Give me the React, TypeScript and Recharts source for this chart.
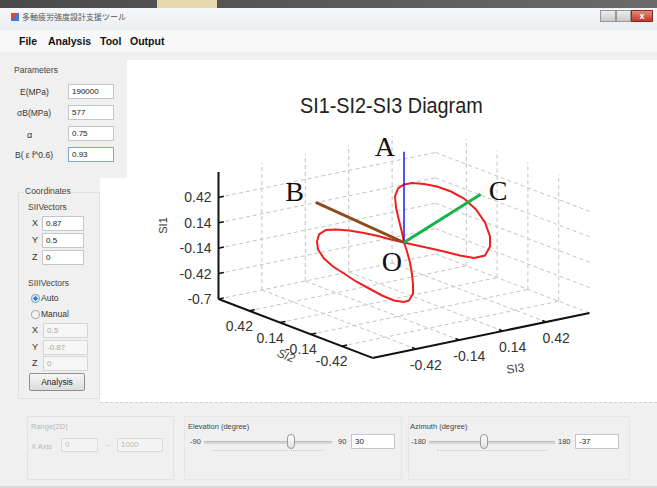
import React from 'react'
import { ScatterChart, Scatter, XAxis, YAxis } from 'recharts'

// ticks of the 3D box: SI1 is vertical, SI2 and SI3 lie on the floor
const si1Ticks = [-0.7, -0.42, -0.14, 0.14, 0.42]
const si2Ticks = [-0.42, -0.14, 0.14, 0.42]
const si3Ticks = [-0.42, -0.14, 0.14, 0.42]
const axisLimit = 0.7

// principal directions, as [SI1, SI2, SI3]
const vectorNames = ['A', 'B', 'C']
const vectors = [
    [1, 0, 0],
    [0, 0.9, 0.07],
    [0, 0.5, 0.85],
]

// red path in the view plane (h to the right, v up, O at 0,0)
const upperLobe = [
    [0, 0], [-2, 10], [-5, 22], [-8, 35], [-9, 46], [-6, 54], [0, 58], [8, 59.5],
    [20, 58.5], [33, 56], [47, 51], [60, 44], [72, 33], [81, 20], [86, 6], [86, -4],
    [81, -13], [70, -15.5], [56, -13], [42, -9.5], [27, -6], [13, -3], [0, 0],
]
const lowerLobe = [
    [0, 0], [-13, 3], [-26, 6.5], [-40, 9.5], [-55, 12], [-68, 13], [-78, 12.5], [-85, 8],
    [-87, 1], [-86, -7], [-80, -16], [-71, -24], [-60, -31], [-48, -39], [-35, -46],
    [-22, -53], [-10, -58], [0, -59.5], [5, -58], [9, -51], [9, -42], [8, -32], [6, -20],
    [3, -9], [0, 0],
]

const axisTitles = ['SI1', 'SI2', 'SI3']

// view at elevation 30 / azimuth -37, pixels per unit of each axis
const VIEW_H = [0, -110, 155]
const VIEW_V = [90.7, 42.1, 32.1]
const project = (p: number[]) => ({
    h: VIEW_H[0] * p[0] + VIEW_H[1] * p[1] + VIEW_H[2] * p[2],
    v: VIEW_V[0] * p[0] + VIEW_V[1] * p[1] + VIEW_V[2] * p[2],
})
const seg = (a: number[], b: number[]) => [project(a), project(b)]

const L = axisLimit
const gridLines: { h: number; v: number }[][] = []
si3Ticks.forEach(t => gridLines.push(seg([-L, L, t], [-L, -L, t])))
si2Ticks.forEach(t => gridLines.push(seg([-L, t, -L], [-L, t, L])))
si1Ticks.forEach(t => gridLines.push(seg([t, L, -L], [t, L, L])))
si3Ticks.forEach(t => gridLines.push(seg([-L, L, t], [L, L, t])))
si1Ticks.forEach(t => gridLines.push(seg([t, L, L], [t, -L, L])))
si2Ticks.forEach(t => gridLines.push(seg([-L, t, L], [L, t, L])))

const axisLines = [
    seg([-L, L, -L], [L, L, -L]),
    seg([-L, L, -L], [-L, -L, -L]),
    seg([-L, -L, -L], [-L, -L, L]),
]
const tickMarks = [
    ...si1Ticks.map(t => seg([t, L, -L], [t, L, -L + 0.035])),
    ...si2Ticks.map(t => seg([-L, t, -L], [-L, t, -L + 0.035])),
    ...si3Ticks.map(t => seg([-L, -L, t], [-L, -L + 0.035, t])),
]

const fmt = (t: number) => String(t).replace('0.', '0.')
const si1Labels = si1Ticks.map(t => ({ ...project([t, L, -L]), label: fmt(t) }))
const si2Labels = si2Ticks.map(t => ({ ...project([-L, t, -L]), label: fmt(t) }))
const si3Labels = si3Ticks.map(t => ({ ...project([-L, -L, t]), label: fmt(t) }))
const titlePoints = [project([0, L, -L]), project([-L, 0, -L]), project([-L, -L, 0])]

const vectorColors = ['#1a1aff', '#8f4a1c', '#18b24a']
const vectorWidths = [1.5, 3, 3]
const vectorLabelOffsets = [[-9, 4], [-12, -1], [8, 6]]
const vectorLabelAnchor = ['end', 'end', 'start']

const redPath = [...upperLobe, ...lowerLobe.slice(1)].map(([h, v]) => ({ h, v }))

// chart frame in page pixels, O sits at (404, 242.5)
const CH = { left: 127, top: 60, width: 530, height: 342 }
const OX = 404
const OY = 242.5

const NoDot = () => <g />

const textShape = (dx: number, dy: number, attrs: any) => (p: any) => (
    <text x={p.cx + dx} y={p.cy + dy} {...attrs}>{p.payload.label}</text>
)

const tickFont = { fontFamily: 'Liberation Sans, Arial, sans-serif', fontSize: 14, fill: '#333' }
const letterFont = { fontFamily: 'Liberation Serif, Times New Roman, serif', fontSize: 28, fill: '#111' }

function Diagram() {
    return (
        <ScatterChart width={CH.width} height={CH.height} margin={{ top: 0, right: 0, bottom: 0, left: 0 }}>
            <XAxis type="number" dataKey="h" hide allowDataOverflow
                domain={[CH.left - OX, CH.left + CH.width - OX]} />
            <YAxis type="number" dataKey="v" hide allowDataOverflow
                domain={[OY - (CH.top + CH.height), OY - CH.top]} />
            {gridLines.map((d, i) => (
                <Scatter key={`g${i}`} data={d} fill="#bdbdbd" shape={NoDot} isAnimationActive={false}
                    line={{ stroke: '#c4c4c4', strokeWidth: 1, strokeDasharray: '4 3' }} />
            ))}
            {axisLines.map((d, i) => (
                <Scatter key={`a${i}`} data={d} fill="#111" shape={NoDot} isAnimationActive={false}
                    line={{ stroke: '#111', strokeWidth: 2 }} />
            ))}
            {tickMarks.map((d, i) => (
                <Scatter key={`t${i}`} data={d} fill="#111" shape={NoDot} isAnimationActive={false}
                    line={{ stroke: '#111', strokeWidth: 1.5 }} />
            ))}
            <Scatter data={si1Labels} shape={textShape(-7, 5, { ...tickFont, textAnchor: 'end' })} isAnimationActive={false} />
            <Scatter data={si2Labels} shape={textShape(-10, 20, { ...tickFont, textAnchor: 'middle' })} isAnimationActive={false} />
            <Scatter data={si3Labels} shape={textShape(10, 21, { ...tickFont, textAnchor: 'middle' })} isAnimationActive={false} />
            <Scatter data={[{ ...titlePoints[0], label: axisTitles[0] }]} isAnimationActive={false}
                shape={(p: any) => (
                    <text x={p.cx - 52} y={p.cy - 10} transform={`rotate(-90 ${p.cx - 52} ${p.cy - 10})`}
                        textAnchor="middle" fontFamily="Liberation Sans, Arial" fontSize={11} fill="#333">{p.payload.label}</text>
                )} />
            <Scatter data={[{ ...titlePoints[1], label: axisTitles[1] }]} isAnimationActive={false}
                shape={(p: any) => (
                    <text x={p.cx - 11} y={p.cy + 31} transform={`rotate(22 ${p.cx - 11} ${p.cy + 31})`}
                        textAnchor="middle" fontFamily="Liberation Sans, Arial" fontSize={12} fontStyle="italic" fill="#444">{p.payload.label}</text>
                )} />
            <Scatter data={[{ ...titlePoints[2], label: axisTitles[2] }]} isAnimationActive={false}
                shape={(p: any) => (
                    <text x={p.cx + 35} y={p.cy + 37} transform={`rotate(-8 ${p.cx + 35} ${p.cy + 37})`}
                        textAnchor="middle" fontFamily="Liberation Sans, Arial" fontSize={12} fill="#444">{p.payload.label}</text>
                )} />
            <Scatter data={redPath} fill="#f01e1e" shape={NoDot} isAnimationActive={false}
                line={{ stroke: '#f01e1e', strokeWidth: 2 }} />
            {vectors.map((vec, i) => (
                <Scatter key={`v${i}`} data={[project([0, 0, 0]), project(vec)]} fill={vectorColors[i]}
                    shape={NoDot} isAnimationActive={false}
                    line={{ stroke: vectorColors[i], strokeWidth: vectorWidths[i] }} />
            ))}
            {vectors.map((vec, i) => (
                <Scatter key={`n${i}`} data={[{ ...project(vec), label: vectorNames[i] }]} isAnimationActive={false}
                    shape={textShape(vectorLabelOffsets[i][0], vectorLabelOffsets[i][1],
                        { ...letterFont, textAnchor: vectorLabelAnchor[i] })} />
            ))}
            <Scatter data={[{ ...project([0, 0, 0]), label: 'O' }]} isAnimationActive={false}
                shape={textShape(-2, 28, { ...letterFont, textAnchor: 'end' })} />
        </ScatterChart>
    )
}

const ui = 'Liberation Sans, Arial, sans-serif'

function Txt({ x, y, children, size = 9, color = '#333', bold = false, style = {} }: any) {
    return (
        <div style={{
            position: 'absolute', left: x, top: y, fontSize: size, color, fontFamily: ui,
            fontWeight: bold ? 700 : 400, whiteSpace: 'nowrap', lineHeight: 1, ...style
        }}>{children}</div>
    )
}

function Box({ x, y, w, h, text, border = '#c3c6cc', color = '#222', bg = '#fff' }: any) {
    return (
        <div style={{
            position: 'absolute', left: x, top: y, width: w, height: h, border: `1px solid ${border}`,
            background: bg, boxSizing: 'border-box', fontSize: 8, color, paddingLeft: 3,
            lineHeight: `${h - 2}px`, fontFamily: ui, whiteSpace: 'nowrap'
        }}>{text}</div>
    )
}

function Slider({ x, y, w, thumb }: any) {
    return (
        <>
            <div style={{ position: 'absolute', left: x, top: y, width: w, height: 2, background: '#d6d6d6', borderTop: '1px solid #bfbfbf' }} />
            <div style={{ position: 'absolute', left: x + 8, top: y + 9, width: w - 16, height: 0, borderTop: '1px dotted #c8c8c8' }} />
            <div style={{
                position: 'absolute', left: thumb - 4, top: y - 7, width: 8, height: 15, borderRadius: 4,
                border: '1px solid #9a9a9a', background: 'linear-gradient(#fdfdfd, #e2e2e2)', boxSizing: 'border-box'
            }} />
        </>
    )
}

export default function App() {
    return (
        <div style={{ position: 'absolute', left: 0, top: 0, width: 657, height: 488, overflow: 'hidden', background: '#f0f0f0', fontFamily: ui }}>
            {/* screen strip above the window */}
            <div style={{ position: 'absolute', left: 0, top: 0, width: 657, height: 8, background: 'linear-gradient(90deg,#4a4a4a,#6a6a6a)' }} />
            <div style={{ position: 'absolute', left: 157, top: 0, width: 60, height: 8, background: '#e6d7ae' }} />
            {/* title bar */}
            <div style={{ position: 'absolute', left: 0, top: 8, width: 657, height: 22, background: 'linear-gradient(#f7f8fa,#e9edf2)' }} />
            <div style={{ position: 'absolute', left: 11, top: 13, width: 8, height: 8, background: 'linear-gradient(135deg,#e24a2a 50%,#3a7bd5 50%)' }} />
            <Txt x={22} y={13} size={8} color="#555" style={{ fontFamily: 'Noto Sans CJK JP, sans-serif' }}>多軸疲労強度設計支援ツール</Txt>
            <div style={{ position: 'absolute', left: 600, top: 10, width: 16, height: 12, background: 'linear-gradient(#eee,#c9c9c9)', border: '1px solid #999', boxSizing: 'border-box' }} />
            <div style={{ position: 'absolute', left: 616, top: 10, width: 15, height: 12, background: 'linear-gradient(#eee,#c9c9c9)', border: '1px solid #999', boxSizing: 'border-box' }} />
            <div style={{ position: 'absolute', left: 631, top: 10, width: 22, height: 12, background: 'linear-gradient(#e88a7a,#c4352a)', border: '1px solid #8a2a20', boxSizing: 'border-box', color: '#fff', fontSize: 9, textAlign: 'center', lineHeight: '10px', fontWeight: 700 }}>x</div>
            {/* menu bar */}
            <div style={{ position: 'absolute', left: 0, top: 30, width: 657, height: 22, background: '#f8f8f8' }} />
            <Txt x={19} y={36} size={10.5} bold color="#111">File</Txt>
            <Txt x={48} y={36} size={10.5} bold color="#111">Analysis</Txt>
            <Txt x={100} y={36} size={10.5} bold color="#111">Tool</Txt>
            <Txt x={130} y={36} size={10.5} bold color="#111">Output</Txt>

            {/* plot panel */}
            <div style={{ position: 'absolute', left: 127, top: 60, width: 530, height: 342, background: '#fff' }} />
            <div style={{ position: 'absolute', left: 100, top: 178, width: 27, height: 224, background: '#fff' }} />
            <div style={{ position: 'absolute', left: 100, top: 402, width: 557, height: 0, borderTop: '1px dashed #d2d2d2' }} />
            <div style={{ position: 'absolute', left: CH.left, top: CH.top }}>
                <Diagram />
            </div>
            <div style={{
                position: 'absolute', left: 290, top: 95, width: 200, textAlign: 'center', fontFamily: ui,
                fontSize: 22, lineHeight: '22px', color: '#222', transform: 'scaleX(0.9)', whiteSpace: 'nowrap'
            }}>SI1-SI2-SI3 Diagram</div>

            {/* parameters */}
            <Txt x={14} y={66} size={8.5} color="#444">Parameters</Txt>
            <Txt x={20} y={88} size={8.5}>E(MPa)</Txt>
            <Box x={68} y={84} w={46} h={15} text="190000" />
            <Txt x={17} y={109} size={8.5}>σB(MPa)</Txt>
            <Box x={68} y={105} w={46} h={15} text="577" />
            <Txt x={27} y={131} size={9}>α</Txt>
            <Box x={68} y={126} w={46} h={15} text="0.75" />
            <Txt x={15} y={151} size={8.5}>B( ε f^0.6)</Txt>
            <Box x={68} y={147} w={46} h={15} text="0.93" border="#7aa7d8" />

            <div style={{ position: 'absolute', left: 18, top: 192, width: 80, height: 205, border: '1px solid #e0e0e0' }} />
            <Txt x={24} y={187} size={8.5} color="#444" style={{ background: '#f0f0f0', padding: '0 1px' }}>Coordinates</Txt>
            <Txt x={28} y={203} size={8.5} color="#444">SIIVectors</Txt>
            <Txt x={32} y={219} size={9}>X</Txt>
            <Box x={42} y={216} w={42} h={15} text="0.87" />
            <Txt x={32} y={236} size={9}>Y</Txt>
            <Box x={42} y={233} w={42} h={15} text="0.5" />
            <Txt x={32} y={253} size={9}>Z</Txt>
            <Box x={42} y={250} w={42} h={15} text="0" />
            <Txt x={28} y={279} size={8.5} color="#444">SIIIVectors</Txt>
            <div style={{ position: 'absolute', left: 31, top: 294, width: 7, height: 7, borderRadius: 4, background: 'radial-gradient(#2a7fd4 40%, #cfe0f2 45%)', border: '1px solid #8aa' }} />
            <Txt x={41} y={294} size={8.5}>Auto</Txt>
            <div style={{ position: 'absolute', left: 31, top: 310, width: 7, height: 7, borderRadius: 4, background: '#f4f4f4', border: '1px solid #aaa' }} />
            <Txt x={41} y={310} size={8.5}>Manual</Txt>
            <Txt x={32} y={326} size={9}>X</Txt>
            <Box x={43} y={323} w={45} h={15} text="0.5" color="#aaa" border="#d6d6d6" bg="#f6f6f6" />
            <Txt x={32} y={343} size={9}>Y</Txt>
            <Box x={43} y={340} w={45} h={15} text="-0.87" color="#aaa" border="#d6d6d6" bg="#f6f6f6" />
            <Txt x={32} y={359} size={9}>Z</Txt>
            <Box x={43} y={356} w={45} h={15} text="0" color="#aaa" border="#d6d6d6" bg="#f6f6f6" />
            <div style={{
                position: 'absolute', left: 29, top: 373, width: 56, height: 18, border: '1px solid #8e8f8f', borderRadius: 2,
                background: 'linear-gradient(#f6f6f6,#dcdcdc)', boxSizing: 'border-box', fontSize: 8.5, textAlign: 'center', lineHeight: '16px', color: '#222'
            }}>Analysis</div>

            {/* bottom controls */}
            <div style={{ position: 'absolute', left: 27, top: 416, width: 145, height: 62, border: '1px solid #e2e2e2' }} />
            <Txt x={31} y={423} size={7.5} color="#b8b8b8">Range(2D)</Txt>
            <Txt x={31} y={443} size={7.5} color="#b8b8b8">X Axis</Txt>
            <Box x={61} y={438} w={37} h={14} text="0" color="#bbb" border="#dadada" bg="#f4f4f4" />
            <Txt x={105} y={442} size={8} color="#bbb">~</Txt>
            <Box x={117} y={438} w={46} h={14} text="1000" color="#bbb" border="#dadada" bg="#f4f4f4" />

            <div style={{ position: 'absolute', left: 184, top: 416, width: 216, height: 62, border: '1px solid #e6e6e6' }} />
            <Txt x={188} y={423} size={7.5} color="#444">Elevation (degree)</Txt>
            <Txt x={190} y={438} size={7.5} color="#444">-90</Txt>
            <Slider x={204} y={441} w={128} thumb={291} />
            <Txt x={338} y={438} size={7.5} color="#444">90</Txt>
            <Box x={351} y={434} w={44} h={15} text="30" />

            <div style={{ position: 'absolute', left: 408, top: 416, width: 220, height: 62, border: '1px solid #e6e6e6' }} />
            <Txt x={410} y={423} size={7.5} color="#444">Azimuth (degree)</Txt>
            <Txt x={411} y={438} size={7.5} color="#444">-180</Txt>
            <Slider x={429} y={441} w={126} thumb={484} />
            <Txt x={558} y={438} size={7.5} color="#444">180</Txt>
            <Box x={575} y={434} w={44} h={15} text="-37" />
            <div style={{ position: 'absolute', left: 0, top: 486, width: 657, height: 2, background: '#d8d8d8' }} />
        </div>
    )
}
